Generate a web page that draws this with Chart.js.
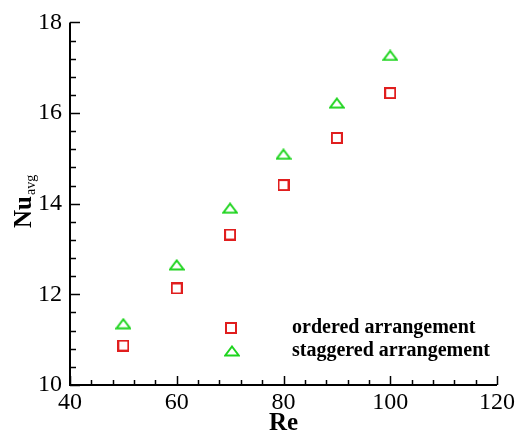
<!DOCTYPE html>
<html>
<head>
<meta charset="utf-8">
<script src="https://cdn.jsdelivr.net/npm/chart.js@4"></script>
<style>
  html, body { margin: 0; padding: 0; background: #ffffff; }
  #wrap { width: 518px; height: 432px; }
</style>
</head>
<body>
<div id="wrap"><canvas id="nuChart" width="518" height="432"></canvas></div>
<script>
// data
const reValues = [50, 60, 70, 80, 90, 100];
const nuOrdered = [10.87, 12.13, 13.32, 14.41, 15.45, 16.44];
const nuStaggered = [11.35, 12.65, 13.9, 15.09, 16.22, 17.27];
const xTicks = [40, 60, 80, 100, 120];
const yTicks = [10, 12, 14, 16, 18];
const seriesNames = ['ordered arrangement', 'staggered arrangement'];

const redColor = '#e01e1e';
const greenColor = '#1ed41e';
const serif = '"Liberation Serif", "DejaVu Serif", serif';

// open square marker
function makeSquare() {
    const c = document.createElement('canvas');
    c.width = 12; c.height = 12;
    const g = c.getContext('2d');
    g.strokeStyle = redColor;
    g.lineWidth = 2;
    g.strokeRect(1, 1, 10, 10);
    return c;
}

// open triangle marker (a bit flatter than equilateral)
function makeTriangle() {
    const c = document.createElement('canvas');
    c.width = 16; c.height = 12;
    const g = c.getContext('2d');
    g.strokeStyle = greenColor;
    g.lineWidth = 2;
    g.lineJoin = 'miter';
    g.beginPath();
    g.moveTo(8, 1.5);
    g.lineTo(14.8, 10.5);
    g.lineTo(1.2, 10.5);
    g.closePath();
    g.stroke();
    return c;
}

const squareImg = makeSquare();
const triangleImg = makeTriangle();

function toPoints(xs, ys) {
    return xs.map((x, i) => ({ x: x, y: ys[i] }));
}

// axis lines, inward major/minor ticks, titles and the in-plot legend
const decorPlugin = {
    id: 'decor',
    afterDraw(chart) {
        const ctx = chart.ctx;
        const xs = chart.scales.x;
        const ys = chart.scales.y;
        const left = xs.left, right = xs.right;
        const top = ys.top, bottom = ys.bottom;

        ctx.save();
        ctx.strokeStyle = '#000000';
        ctx.lineWidth = 2;
        ctx.beginPath();
        ctx.moveTo(left, top);
        ctx.lineTo(left, bottom);
        ctx.lineTo(right, bottom);
        ctx.stroke();

        ctx.lineWidth = 1.5;
        // x ticks, major every 20, minor every 4
        for (let v = xTicks[0]; v <= xTicks[xTicks.length - 1] + 1e-6; v += 4) {
            const px = Math.round(xs.getPixelForValue(v)) + 0.5;
            const major = Math.abs((v - xTicks[0]) % 20) < 1e-6;
            ctx.beginPath();
            ctx.moveTo(px, bottom);
            ctx.lineTo(px, bottom - (major ? 9 : 5));
            ctx.stroke();
        }
        // y ticks, major every 2, minor every 0.4
        for (let i = 0; i <= 20; i++) {
            const v = yTicks[0] + i * 0.4;
            const py = Math.round(ys.getPixelForValue(v)) + 0.5;
            const major = i % 5 === 0;
            ctx.beginPath();
            ctx.moveTo(left, py);
            ctx.lineTo(left + (major ? 10 : 6), py);
            ctx.stroke();
        }

        // x title
        ctx.fillStyle = '#000000';
        ctx.font = 'bold 25px ' + serif;
        ctx.textAlign = 'center';
        ctx.textBaseline = 'alphabetic';
        ctx.fillText('Re', (left + right) / 2, 430);

        // y title, rotated, with subscript
        ctx.save();
        ctx.translate(31, 228);
        ctx.rotate(-Math.PI / 2);
        ctx.textAlign = 'left';
        ctx.font = 'bold 25px ' + serif;
        ctx.fillText('Nu', 0, 0);
        const w = ctx.measureText('Nu').width;
        ctx.font = '14px ' + serif;
        ctx.fillText('avg', w + 1, 4);
        ctx.restore();

        // legend
        const mx = left + 161;
        ctx.drawImage(squareImg, mx - 6, 328 - 6);
        ctx.drawImage(triangleImg, mx - 8 + 1, 351 - 6);
        ctx.font = 'bold 20px ' + serif;
        ctx.textAlign = 'left';
        ctx.textBaseline = 'middle';
        ctx.fillText(seriesNames[0], 292, 328);
        ctx.fillText(seriesNames[1], 292, 351);
        ctx.restore();
    }
};

const ctx = document.getElementById('nuChart').getContext('2d');
new Chart(ctx, {
    type: 'scatter',
    data: {
        datasets: [
            {
                label: seriesNames[0],
                data: toPoints(reValues, nuOrdered),
                pointStyle: squareImg,
                borderColor: redColor,
                backgroundColor: redColor
            },
            {
                label: seriesNames[1],
                data: toPoints(reValues, nuStaggered),
                pointStyle: triangleImg,
                borderColor: greenColor,
                backgroundColor: greenColor
            }
        ]
    },
    options: {
        responsive: false,
        animation: false,
        events: [],
        layout: {
            padding: { top: 21, right: 21, left: 0, bottom: 0 }
        },
        plugins: {
            legend: { display: false },
            tooltip: { enabled: false }
        },
        scales: {
            x: {
                type: 'linear',
                min: xTicks[0],
                max: xTicks[xTicks.length - 1],
                afterFit(scale) { scale.height = 47; },
                afterBuildTicks(scale) { scale.ticks = xTicks.map(v => ({ value: v })); },
                grid: { display: false, drawTicks: false },
                border: { display: false },
                ticks: {
                    padding: 3,
                    color: '#000000',
                    maxRotation: 0,
                    autoSkip: false,
                    font: { family: serif, size: 24 }
                }
            },
            y: {
                type: 'linear',
                min: yTicks[0],
                max: yTicks[yTicks.length - 1],
                afterFit(scale) { scale.width = 70; },
                afterBuildTicks(scale) { scale.ticks = yTicks.map(v => ({ value: v })); },
                grid: { display: false, drawTicks: false },
                border: { display: false },
                ticks: {
                    padding: 8,
                    color: '#000000',
                    autoSkip: false,
                    font: { family: serif, size: 24 }
                }
            }
        }
    },
    plugins: [decorPlugin]
});
</script>
</body>
</html>
